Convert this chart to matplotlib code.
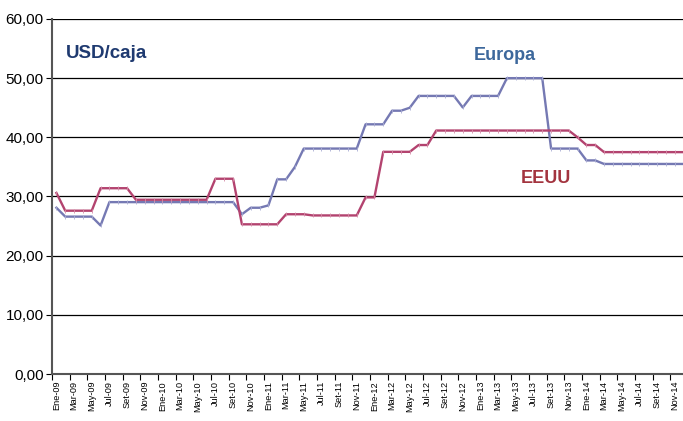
import numpy as np
import matplotlib
matplotlib.use('Agg')
import matplotlib.pyplot as plt

plt.rcParams['font.family'] = ['Liberation Sans', 'DejaVu Sans']

# months Ene-09 .. Dic-14
meses = ['Ene', 'Feb', 'Mar', 'Abr', 'May', 'Jun', 'Jul', 'Ago', 'Set', 'Oct', 'Nov', 'Dic']
anios = ['09', '10', '11', '12', '13', '14']
etiquetas = [m + '-' + a for a in anios for m in meses]

europa = [28.1, 26.6, 26.6, 26.6, 26.6, 25.1,
          29.05, 29.05, 29.05, 29.05, 29.05, 29.05,
          29.05, 29.05, 29.05, 29.05, 29.05, 29.05,
          29.05, 29.05, 29.05, 27.0, 28.1, 28.1,
          28.5, 32.9, 32.9, 35.0, 38.1, 38.1,
          38.1, 38.1, 38.1, 38.1, 38.1, 42.2,
          42.2, 42.2, 44.5, 44.5, 45.0, 47.0,
          47.0, 47.0, 47.0, 47.0, 45.05, 47.0,
          47.0, 47.0, 47.0, 50.0, 50.0, 50.0,
          50.0, 50.0, 38.1, 38.1, 38.1, 38.1,
          36.1, 36.1, 35.5, 35.5, 35.5, 35.5,
          35.5, 35.5, 35.5, 35.5, 35.5, 35.5]

eeuu = [30.6, 27.6, 27.6, 27.6, 27.6, 31.4,
        31.4, 31.4, 31.4, 29.45, 29.45, 29.45,
        29.45, 29.45, 29.45, 29.45, 29.45, 29.45,
        33.0, 33.0, 33.0, 25.3, 25.3, 25.3,
        25.3, 25.3, 27.0, 27.0, 27.0, 26.8,
        26.8, 26.8, 26.8, 26.8, 26.8, 29.85,
        29.85, 37.55, 37.55, 37.55, 37.55, 38.7,
        38.7, 41.15, 41.15, 41.15, 41.15, 41.15,
        41.15, 41.15, 41.15, 41.15, 41.15, 41.15,
        41.15, 41.15, 41.15, 41.15, 41.15, 40.0,
        38.7, 38.7, 37.5, 37.5, 37.5, 37.5,
        37.5, 37.5, 37.5, 37.5, 37.5, 37.5]

x = np.arange(len(etiquetas))

fig = plt.figure(figsize=(6.83, 4.21), dpi=100)
# plot area runs slightly past the right edge of the picture
ax = fig.add_axes([52 / 683, 47 / 421, 636 / 683, 355 / 421])

for yv in [10, 20, 30, 40, 50, 60]:
    ax.axhline(yv, color='black', lw=0.9, zorder=1)

ax.plot(x, europa, color='#7579B3', lw=1.7, marker='|', ms=3,
        mec='#A9ACD3', mew=0.6, zorder=3)
ax.plot(x, eeuu, color='#B3436F', lw=1.7, marker='|', ms=3,
        mec='#D58CA8', mew=0.6, zorder=3)

ax.set_xlim(-0.5, len(x) - 0.5)
ax.set_ylim(0, 60)

ax.set_yticks(np.arange(0, 61, 10))
ax.set_yticklabels(['%d,00' % v for v in range(0, 61, 10)], fontsize=11)
ax.tick_params(axis='y', length=4, width=0.8, pad=2)

ax.set_xticks(x[::2])
ax.set_xticklabels(etiquetas[::2], rotation=90, fontsize=6.6)
ax.tick_params(axis='x', which='major', length=0, pad=5)
ax.set_xticks(np.arange(-0.5, len(x), 2), minor=True)
ax.tick_params(axis='x', which='minor', length=4, width=0.8, direction='out')

for s in ['top', 'right']:
    ax.spines[s].set_visible(False)
ax.spines['left'].set_color('#555555')
ax.spines['left'].set_linewidth(1.5)
ax.spines['bottom'].set_color('#555555')
ax.spines['bottom'].set_linewidth(1.5)

fig.text(66 / 683, 1 - 53 / 421, 'USD/caja', fontsize=13.5, fontweight='bold',
         color='#1F3A70', ha='left', va='center')
fig.text(505 / 683, 1 - 55 / 421, 'Europa', fontsize=13, fontweight='bold',
         color='#3D689C', ha='center', va='center')
fig.text(546 / 683, 1 - 178 / 421, 'EEUU', fontsize=13, fontweight='bold',
         color='#A3343F', ha='center', va='center')

fig.savefig('out.png', dpi=100)
